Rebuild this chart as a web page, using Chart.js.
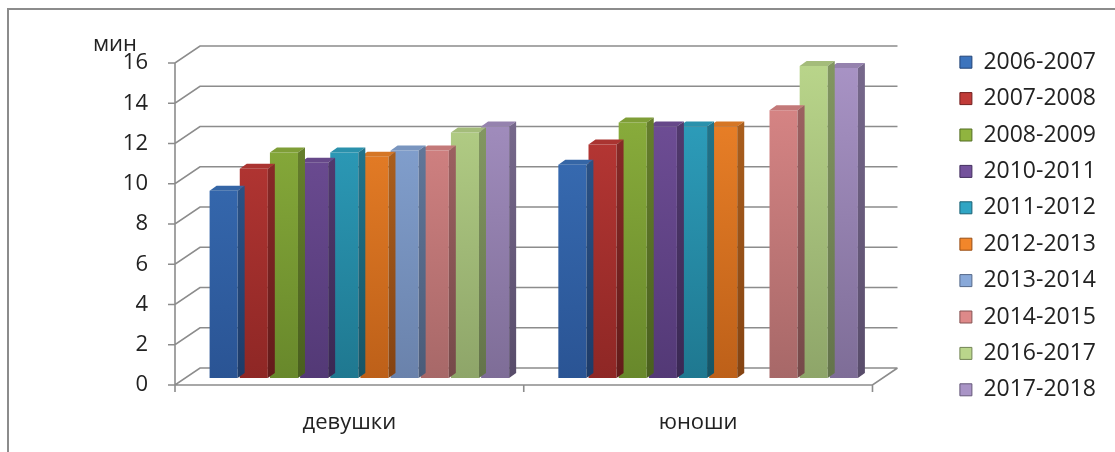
<!DOCTYPE html>
<html>
<head>
<meta charset="utf-8">
<script src="https://cdn.jsdelivr.net/npm/chart.js@4.4.0/dist/chart.umd.min.js"></script>
<style>
  body { margin: 0; background: #fff; }
</style>
</head>
<body>
<canvas id="myChart" width="1115" height="452"></canvas>
<script>
// девушки / юноши, время в минутах
const groups = ['девушки', 'юноши'];
const seasons = ['2006-2007', '2007-2008', '2008-2009', '2010-2011', '2011-2012',
                 '2012-2013', '2013-2014', '2014-2015', '2016-2017', '2017-2018'];
const s2006 = [9.3, 10.6];
const s2007 = [10.4, 11.6];
const s2008 = [11.2, 12.7];
const s2010 = [10.7, 12.5];
const s2011 = [11.2, 12.5];
const s2012 = [11.0, 12.5];
const s2013 = [11.3, null];   // у юношей нет данных
const s2014 = [11.3, 13.3];
const s2016 = [12.2, 15.5];
const s2017 = [12.5, 15.4];
const yTicks = [0, 2, 4, 6, 8, 10, 12, 14, 16];

const series = [s2006, s2007, s2008, s2010, s2011, s2012, s2013, s2014, s2016, s2017];

// light (top) and dark (bottom) tones of each column
const palette = [
    ['#3c74bd', '#2a5494'],
    ['#c13b38', '#8e2725'],
    ['#90b43f', '#68882b'],
    ['#74529c', '#533976'],
    ['#30a5c4', '#1f7890'],
    ['#f2862a', '#bd6019'],
    ['#89a9d9', '#6a82ab'],
    ['#de8989', '#a76868'],
    ['#bad68b', '#8ea569'],
    ['#a994c6', '#7e6d97']
];

function shade(hex, f) {
    const n = parseInt(hex.slice(1), 16);
    let r = n >> 16, g = (n >> 8) & 255, b = n & 255;
    if (f < 0) {
        r = r * (1 + f); g = g * (1 + f); b = b * (1 + f);
    } else {
        r = r + (255 - r) * f; g = g + (255 - g) * f; b = b + (255 - b) * f;
    }
    return 'rgb(' + Math.round(r) + ',' + Math.round(g) + ',' + Math.round(b) + ')';
}

const datasets = series.map((values, i) => ({
    label: seasons[i],
    data: values,
    backgroundColor: (c) => {
        const area = c.chart.chartArea;
        if (!area) return palette[i][0];
        const g = c.chart.ctx.createLinearGradient(0, area.top, 0, area.bottom);
        g.addColorStop(0, palette[i][0]);
        g.addColorStop(1, palette[i][1]);
        return g;
    },
    borderWidth: 0
}));

// offsets of the front edge and the back wall from the plane of the columns
const FRONT = { x: -10, y: 7 };
const BACK = { x: 15, y: -10 };
const DEPTH = { x: 7, y: 5 };

const box3d = {
    id: 'box3d',
    beforeDatasetsDraw(chart) {
        const { ctx, chartArea: a, scales: { y } } = chart;
        const y0 = y.getPixelForValue(0);
        const yMax = y.getPixelForValue(y.max);
        ctx.save();
        ctx.strokeStyle = '#8c8c8c';
        ctx.lineWidth = 1.6;
        ctx.beginPath();
        yTicks.forEach(v => {
            const py = y.getPixelForValue(v);
            ctx.moveTo(a.left + FRONT.x - 7, py + FRONT.y);
            ctx.lineTo(a.left + FRONT.x, py + FRONT.y);
            ctx.lineTo(a.left + BACK.x, py + BACK.y);
            ctx.lineTo(a.right + BACK.x, py + BACK.y);
        });
        // vertical axis
        ctx.moveTo(a.left + FRONT.x, yMax + FRONT.y);
        ctx.lineTo(a.left + FRONT.x, y0 + FRONT.y);
        // floor: front edge and right side
        ctx.lineTo(a.right + FRONT.x, y0 + FRONT.y);
        ctx.lineTo(a.right + BACK.x, y0 + BACK.y);
        // category separators
        const step = (a.right - a.left) / groups.length;
        for (let k = 0; k <= groups.length; k++) {
            const px = a.left + FRONT.x + step * k;
            ctx.moveTo(px, y0 + FRONT.y);
            ctx.lineTo(px, y0 + FRONT.y + 7);
        }
        ctx.stroke();
        ctx.restore();
    },
    afterDatasetDraw(chart, args) {
        const { ctx } = chart;
        const i = args.index;
        const meta = args.meta;
        ctx.save();
        meta.data.forEach((bar, j) => {
            if (series[i][j] == null) return;
            const { x, y, base, width } = bar.getProps(['x', 'y', 'base', 'width'], true);
            const l = x - width / 2, r = x + width / 2;
            // top face
            ctx.fillStyle = shade(palette[i][0], -0.12);
            ctx.beginPath();
            ctx.moveTo(l, y);
            ctx.lineTo(r, y);
            ctx.lineTo(r + DEPTH.x, y - DEPTH.y);
            ctx.lineTo(l + DEPTH.x, y - DEPTH.y);
            ctx.closePath();
            ctx.fill();
            // right side face
            const g = ctx.createLinearGradient(0, y, 0, base);
            g.addColorStop(0, shade(palette[i][0], -0.3));
            g.addColorStop(1, shade(palette[i][1], -0.3));
            ctx.fillStyle = g;
            ctx.beginPath();
            ctx.moveTo(r, y);
            ctx.lineTo(r + DEPTH.x, y - DEPTH.y);
            ctx.lineTo(r + DEPTH.x, base - DEPTH.y);
            ctx.lineTo(r, base);
            ctx.closePath();
            ctx.fill();
        });
        ctx.restore();
    },
    afterDraw(chart) {
        const { ctx, chartArea: a } = chart;
        ctx.save();
        // frame
        ctx.strokeStyle = '#8c8c8c';
        ctx.lineWidth = 2;
        ctx.beginPath();
        ctx.moveTo(8, chart.height);
        ctx.lineTo(8, 9);
        ctx.lineTo(chart.width, 9);
        ctx.stroke();
        // unit label over the value axis
        ctx.fillStyle = '#222';
        ctx.font = "22px 'Open Sans', sans-serif";
        ctx.textAlign = 'center';
        ctx.textBaseline = 'middle';
        ctx.fillText('мин', a.left - 70, a.top - 11);
        ctx.restore();
    }
};

Chart.defaults.font.family = "'Open Sans', sans-serif";
Chart.defaults.font.size = 22;
Chart.defaults.color = '#222';

const ctx = document.getElementById('myChart');

new Chart(ctx, {
    type: 'bar',
    data: {
        labels: groups,
        datasets: datasets
    },
    plugins: [box3d],
    options: {
        responsive: false,
        animation: false,
        datasets: {
            bar: {
                categoryPercentage: 0.865,
                barPercentage: 0.93
            }
        },
        layout: {
            padding: { top: 0, right: 9, bottom: 0, left: 0 }
        },
        plugins: {
            legend: {
                position: 'right',
                labels: {
                    boxWidth: 12,
                    boxHeight: 12,
                    padding: 13.4,
                    color: '#222',
                    font: { size: 23 },
                    generateLabels: (chart) => {
                        const items = Chart.defaults.plugins.legend.labels.generateLabels(chart);
                        return items.map((it, k) => Object.assign(it, {
                            fillStyle: palette[k][0],
                            strokeStyle: shade(palette[k][1], -0.2),
                            lineWidth: 1
                        }));
                    }
                }
            },
            tooltip: { enabled: false }
        },
        scales: {
            x: {
                grid: { display: false, drawTicks: false },
                border: { display: false },
                ticks: { padding: 32, labelOffset: -10 },
                afterFit: (s) => { s.height = 74; }
            },
            y: {
                min: 0,
                max: 16,
                grid: { display: false, drawTicks: false },
                border: { display: false },
                ticks: { stepSize: 2, padding: 37, labelOffset: 7 },
                afterFit: (s) => { s.width = 185; }
            },
            // empty axes that keep room for the walls and the unit label
            gapTop: {
                position: 'top',
                grid: { display: false, drawTicks: false },
                border: { display: false },
                ticks: { display: false },
                afterFit: (s) => { s.height = 56; }
            },
            gapRight: {
                position: 'right',
                grid: { display: false, drawTicks: false },
                border: { display: false },
                ticks: { display: false },
                afterFit: (s) => { s.width = 64; }
            }
        }
    }
});
</script>
</body>
</html>
